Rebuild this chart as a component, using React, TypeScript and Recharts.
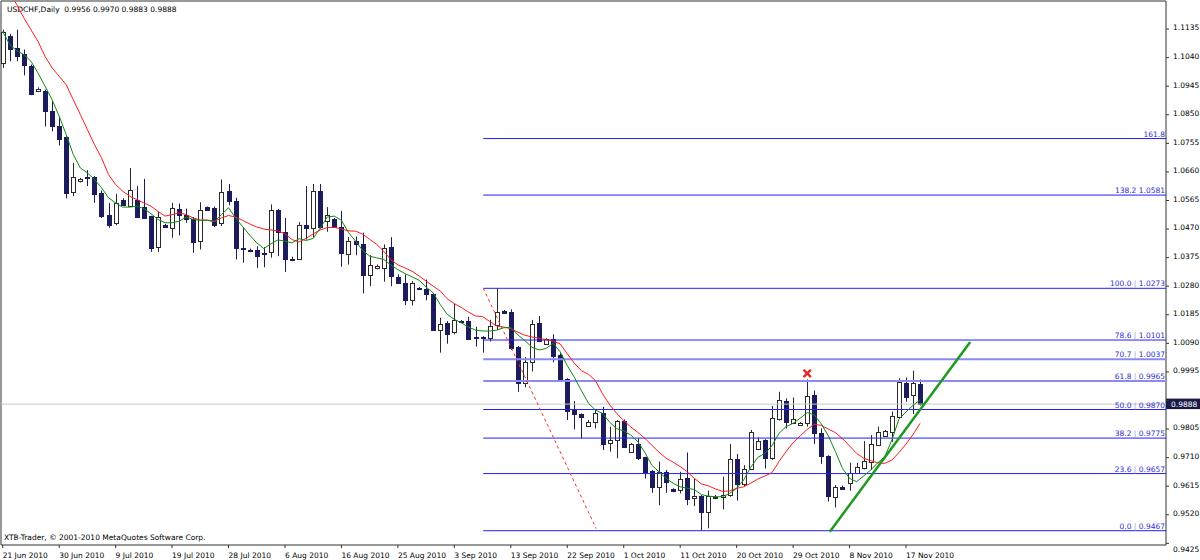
import React from 'react';
import {
  ComposedChart,
  Bar,
  Line,
  XAxis,
  YAxis,
  ReferenceLine,
  ReferenceDot,
  ReferenceArea,
  Customized,
} from 'recharts';

// ---------- data ----------
const OPEN = [
  1.1022, 1.1113, 1.1072, 1.1052, 1.1011, 1.0928, 1.0930, 1.0864, 1.0812, 1.0775,
  1.0594, 1.0629, 1.0644, 1.0642, 1.0590, 1.0516, 1.0491, 1.0566, 1.0548, 1.0568,
  1.0543, 1.0512, 1.0410, 1.0483, 1.0474, 1.0538, 1.0518, 1.0502, 1.0430, 1.0543,
  1.0541, 1.0491, 1.0596, 1.0563, 1.0408, 1.0399, 1.0399, 1.0392, 1.0393, 1.0532,
  1.0461, 1.0372, 1.0369, 1.0485, 1.0474, 1.0598, 1.0496, 1.0505, 1.0476, 1.0388,
  1.0430, 1.0419, 1.0316, 1.0339, 1.0341, 1.0410, 1.0311, 1.0291, 1.0233, 1.0274,
  1.0272, 1.0253, 1.0136, 1.0156, 1.0129, 1.0165, 1.0163, 1.0110, 1.0112, 1.0107,
  1.0151, 1.0196, 1.0193, 1.0079, 0.9957, 1.0027, 1.0157, 1.0088, 1.0103, 1.0051,
  0.9971, 0.9868, 0.9854, 0.9816, 0.9830, 0.9859, 0.9758, 0.9769, 0.9833, 0.9730,
  0.9755, 0.9711, 0.9666, 0.9613, 0.9663, 0.9605, 0.9602, 0.9641, 0.9576, 0.9582,
  0.9530, 0.9578, 0.9580, 0.9586, 0.9704, 0.9622, 0.9671, 0.9738, 0.9769, 0.9708,
  0.9837, 0.9899, 0.9826, 0.9817, 0.9826, 0.9918, 0.9791, 0.9715, 0.9578, 0.9613,
  0.9625, 0.9658, 0.9674, 0.9697, 0.9752, 0.9782, 0.9796, 0.9846, 0.9959, 0.9918,
  0.9956,
];
const HIGH = [
  1.1133, 1.1119, 1.1133, 1.1067, 1.1017, 1.0941, 1.0934, 1.0895, 1.0845, 1.0779,
  1.0690, 1.0640, 1.0666, 1.0646, 1.0598, 1.0557, 1.0587, 1.0572, 1.0673, 1.0613,
  1.0637, 1.0514, 1.0527, 1.0487, 1.0557, 1.0555, 1.0538, 1.0510, 1.0559, 1.0545,
  1.0545, 1.0635, 1.0620, 1.0574, 1.0474, 1.0405, 1.0413, 1.0410, 1.0552, 1.0537,
  1.0507, 1.0378, 1.0493, 1.0613, 1.0620, 1.0620, 1.0543, 1.0507, 1.0530, 1.0444,
  1.0445, 1.0458, 1.0383, 1.0352, 1.0419, 1.0443, 1.0319, 1.0319, 1.0297, 1.0277,
  1.0302, 1.0255, 1.0175, 1.0164, 1.0222, 1.0167, 1.0178, 1.0145, 1.0114, 1.0168,
  1.0273, 1.0201, 1.0203, 1.0081, 1.0044, 1.0168, 1.0181, 1.0107, 1.0120, 1.0057,
  0.9974, 0.9898, 0.9857, 0.9835, 0.9868, 0.9879, 0.9813, 0.9835, 0.9837, 0.9758,
  0.9774, 0.9713, 0.9669, 0.9697, 0.9669, 0.9608, 0.9663, 0.9727, 0.9641, 0.9585,
  0.9600, 0.9586, 0.9647, 0.9755, 0.9722, 0.9685, 0.9802, 0.9777, 0.9771, 0.9882,
  0.9929, 0.9907, 0.9910, 0.9828, 0.9970, 0.9933, 0.9807, 0.9718, 0.9619, 0.9617,
  0.9693, 0.9693, 0.9765, 0.9785, 0.9813, 0.9802, 0.9863, 0.9974, 0.9976, 0.9999,
  0.9970,
];
const LOW = [
  1.1006, 1.1028, 1.1028, 1.0981, 1.0915, 1.0926, 1.0811, 1.0795, 1.0748, 1.0572,
  1.0579, 1.0625, 1.0613, 1.0557, 1.0507, 1.0474, 1.0483, 1.0547, 1.0543, 1.0507,
  1.0505, 1.0394, 1.0394, 1.0474, 1.0441, 1.0449, 1.0491, 1.0391, 1.0402, 1.0530,
  1.0477, 1.0480, 1.0549, 1.0369, 1.0358, 1.0393, 1.0341, 1.0343, 1.0375, 1.0380,
  1.0327, 1.0366, 1.0368, 1.0435, 1.0443, 1.0471, 1.0461, 1.0474, 1.0345, 1.0352,
  1.0383, 1.0256, 1.0280, 1.0336, 1.0295, 1.0280, 1.0288, 1.0217, 1.0216, 1.0268,
  1.0233, 1.0131, 1.0059, 1.0089, 1.0120, 1.0157, 1.0102, 1.0079, 1.0059, 1.0096,
  1.0134, 1.0188, 1.0068, 0.9929, 0.9944, 0.9996, 1.0096, 1.0085, 1.0027, 0.9963,
  0.9835, 0.9804, 0.9774, 0.9813, 0.9807, 0.9735, 0.9730, 0.9708, 0.9743, 0.9727,
  0.9702, 0.9641, 0.9593, 0.9552, 0.9593, 0.9595, 0.9591, 0.9552, 0.9549, 0.9467,
  0.9475, 0.9572, 0.9538, 0.9580, 0.9567, 0.9613, 0.9669, 0.9735, 0.9674, 0.9702,
  0.9833, 0.9807, 0.9822, 0.9815, 0.9813, 0.9755, 0.9689, 0.9564, 0.9544, 0.9605,
  0.9600, 0.9656, 0.9671, 0.9669, 0.9749, 0.9780, 0.9763, 0.9844, 0.9896, 0.9855,
  0.9883,
];
const CLOSE = [
  1.1125, 1.1069, 1.1047, 1.1017, 1.0920, 1.0935, 1.0862, 1.0812, 1.0771, 1.0590,
  1.0642, 1.0636, 1.0639, 1.0587, 1.0515, 1.0485, 1.0555, 1.0549, 1.0601, 1.0510,
  1.0507, 1.0408, 1.0510, 1.0476, 1.0541, 1.0518, 1.0502, 1.0428, 1.0532, 1.0535,
  1.0483, 1.0593, 1.0563, 1.0408, 1.0406, 1.0398, 1.0382, 1.0390, 1.0532, 1.0460,
  1.0369, 1.0370, 1.0485, 1.0474, 1.0598, 1.0476, 1.0518, 1.0477, 1.0389, 1.0430,
  1.0419, 1.0316, 1.0349, 1.0346, 1.0408, 1.0314, 1.0291, 1.0233, 1.0290, 1.0272,
  1.0253, 1.0134, 1.0153, 1.0122, 1.0167, 1.0160, 1.0106, 1.0109, 1.0110, 1.0149,
  1.0193, 1.0190, 1.0073, 0.9959, 1.0027, 1.0154, 1.0098, 1.0103, 1.0048, 0.9966,
  0.9865, 0.9855, 0.9846, 0.9830, 0.9859, 0.9755, 0.9767, 0.9832, 0.9746, 0.9755,
  0.9708, 0.9661, 0.9613, 0.9663, 0.9630, 0.9598, 0.9638, 0.9571, 0.9582, 0.9530,
  0.9582, 0.9580, 0.9586, 0.9704, 0.9622, 0.9671, 0.9796, 0.9766, 0.9708, 0.9841,
  0.9902, 0.9830, 0.9837, 0.9824, 0.9915, 0.9791, 0.9715, 0.9582, 0.9611, 0.9607,
  0.9660, 0.9678, 0.9700, 0.9755, 0.9796, 0.9800, 0.9848, 0.9963, 0.9913, 0.9957,
  0.9888,
];
// red moving average
const MA_SLOW = [
  1.1293, 1.1255, 1.1216, 1.1172, 1.1133, 1.1094, 1.1044, 1.1006, 1.0978, 1.0950,
  1.0900, 1.0851, 1.0801, 1.0751, 1.0707, 1.0651, 1.0618, 1.0596, 1.0579, 1.0568,
  1.0557, 1.0546, 1.0529, 1.0513, 1.0518, 1.0524, 1.0518, 1.0507, 1.0500, 1.0500,
  1.0496, 1.0507, 1.0515, 1.0510, 1.0499, 1.0487, 1.0477, 1.0470, 1.0467, 1.0464,
  1.0454, 1.0435, 1.0427, 1.0439, 1.0454, 1.0467, 1.0475, 1.0476, 1.0470, 1.0464,
  1.0463, 1.0453, 1.0436, 1.0419, 1.0396, 1.0368, 1.0351, 1.0341, 1.0330, 1.0314,
  1.0297, 1.0280, 1.0264, 1.0238, 1.0222, 1.0209, 1.0194, 1.0181, 1.0179, 1.0163,
  1.0148, 1.0144, 1.0139, 1.0127, 1.0117, 1.0111, 1.0107, 1.0102, 1.0097, 1.0088,
  1.0055, 1.0024, 0.9999, 0.9987, 0.9966, 0.9922, 0.9886, 0.9857, 0.9833, 0.9812,
  0.9794, 0.9774, 0.9751, 0.9728, 0.9708, 0.9695, 0.9680, 0.9663, 0.9641, 0.9623,
  0.9616, 0.9606, 0.9598, 0.9599, 0.9608, 0.9613, 0.9625, 0.9639, 0.9649, 0.9660,
  0.9697, 0.9730, 0.9760, 0.9782, 0.9804, 0.9821, 0.9817, 0.9805, 0.9793, 0.9773,
  0.9749, 0.9724, 0.9708, 0.9700, 0.9693, 0.9691, 0.9702, 0.9727, 0.9755, 0.9787,
  0.9824,
];
// green moving average
const MA_FAST = [
  1.1127, 1.1083, 1.1063, 1.1050, 1.1028, 1.0989, 1.0945, 1.0900, 1.0845, 1.0784,
  1.0718, 1.0673, 1.0657, 1.0635, 1.0607, 1.0574, 1.0557, 1.0543, 1.0543, 1.0546,
  1.0538, 1.0521, 1.0502, 1.0491, 1.0491, 1.0496, 1.0510, 1.0502, 1.0499, 1.0499,
  1.0494, 1.0518, 1.0541, 1.0507, 1.0478, 1.0450, 1.0424, 1.0405, 1.0421, 1.0434,
  1.0430, 1.0424, 1.0438, 1.0432, 1.0439, 1.0474, 1.0510, 1.0513, 1.0499, 1.0458,
  1.0430, 1.0399, 1.0380, 1.0374, 1.0369, 1.0350, 1.0335, 1.0322, 1.0311, 1.0300,
  1.0277, 1.0258, 1.0219, 1.0186, 1.0170, 1.0158, 1.0144, 1.0134, 1.0131, 1.0131,
  1.0134, 1.0142, 1.0143, 1.0118, 1.0099, 1.0077, 1.0068, 1.0073, 1.0090, 1.0062,
  1.0016, 0.9977, 0.9933, 0.9891, 0.9868, 0.9857, 0.9828, 0.9806, 0.9799, 0.9785,
  0.9763, 0.9727, 0.9684, 0.9663, 0.9641, 0.9625, 0.9613, 0.9608, 0.9604, 0.9587,
  0.9582, 0.9580, 0.9580, 0.9591, 0.9608, 0.9636, 0.9678, 0.9711, 0.9724, 0.9749,
  0.9791, 0.9813, 0.9824, 0.9841, 0.9860, 0.9852, 0.9822, 0.9782, 0.9730, 0.9674,
  0.9641, 0.9630, 0.9649, 0.9669, 0.9693, 0.9713, 0.9769, 0.9838, 0.9862, 0.9884,
  0.9902,
];

const DATE_TICK_INDEX = [0, 8, 16, 24, 32, 40, 48, 56, 64, 72, 80, 88, 96, 104, 112, 120, 128];
const DATE_TICK_LABELS = [
  '21 Jun 2010', '30 Jun 2010', '9 Jul 2010', '19 Jul 2010', '28 Jul 2010', '6 Aug 2010',
  '16 Aug 2010', '25 Aug 2010', '3 Sep 2010', '13 Sep 2010', '22 Sep 2010', '1 Oct 2010',
  '11 Oct 2010', '20 Oct 2010', '29 Oct 2010', '8 Nov 2010', '17 Nov 2010',
];
const PRICE_TICKS = [
  0.9425, 0.952, 0.9615, 0.971, 0.9805, 0.99, 0.9995, 1.009, 1.0185, 1.028,
  1.0375, 1.047, 1.0565, 1.066, 1.0755, 1.085, 1.0945, 1.104, 1.1135,
];
const FIB_LEVELS = [0.9467, 0.9657, 0.9775, 0.987, 0.9965, 1.0037, 1.0101, 1.0273, 1.0583, 1.0771];
const FIB_PCT = ['0.0', '23.6', '38.2', '50.0', '61.8', '70.7', '78.6', '100.0', '138.2', '161.8'];
const FIB_PRICE = ['0.9467', '0.9657', '0.9775', '0.9870', '0.9965', '1.0037', '1.0101', '1.0273', '1.0581', ''];
const FIB_PIPE = [true, true, true, true, true, true, true, true, false, false];
const FIB_LIGHT = [false, false, false, false, true, true, false, false, false, false];
const BID = 0.9888;
const TITLE = 'USDCHF,Daily  0.9956 0.9970 0.9883 0.9888';
const COPYRIGHT = 'XTB-Trader, \u00A9 2001-2010 MetaQuotes Software Corp.';

// chart objects (in data coordinates)
const X_DOMAIN: [number, number] = [-0.241, 164.84];
const Y_DOMAIN: [number, number] = [0.94195, 1.12283];
const FIB_START = 68.1;
const FIB_BASE_LINE = [{ x: 68.1, y: 1.0273 }, { x: 84.1, y: 0.9474 }];
const TREND_LINE = [{ x: 117.2, y: 0.94637 }, { x: 137.1, y: 1.00944 }];
const MARK_X = { i: 114, price: 0.999 };

const FONT = 'DejaVu Sans';

const data = OPEN.map((o, i) => ({
  i,
  o,
  h: HIGH[i],
  l: LOW[i],
  c: CLOSE[i],
  range: [LOW[i], HIGH[i]],
  maSlow: MA_SLOW[i],
  maFast: MA_FAST[i],
}));

const NAVY = '#1c1c5c';
const BULL_LINE = '#2a2a2a';

const Candle = (props: any) => {
  const { x, y, width, height, payload } = props;
  if (x == null || y == null || !payload) return null;
  const { o, h, l, c } = payload;
  const top = Math.min(y, y + height);
  const bottom = Math.max(y, y + height);
  const span = h - l;
  const k = span > 0 ? (bottom - top) / span : 0;
  const yOf = (v: number) => top + (h - v) * k;
  const cx = Math.round(x + width / 2) + 0.5;
  const bull = c >= o;
  const bTop = Math.round(yOf(Math.max(o, c))) + 0.5;
  const bBot = Math.round(yOf(Math.min(o, c))) + 0.5;
  const col = bull ? BULL_LINE : NAVY;
  return (
    <g>
      <line x1={cx} x2={cx} y1={top} y2={bottom} stroke={col} strokeWidth={1} />
      <rect
        x={cx - 2}
        y={bTop}
        width={4}
        height={Math.max(bBot - bTop, 1)}
        fill={bull ? '#ffffff' : NAVY}
        stroke={col}
        strokeWidth={1}
      />
    </g>
  );
};

const XTick = (props: any) => {
  const { x, y, payload } = props;
  const idx = DATE_TICK_INDEX.indexOf(payload.value);
  const label = idx >= 0 ? DATE_TICK_LABELS[idx] : '';
  return (
    <text x={x} y={y + 8} textAnchor="start" fontFamily={FONT} fontSize={7.5} fill="#000">
      {label}
    </text>
  );
};

const YTick = (props: any) => {
  const { x, y, payload } = props;
  const v = payload.value as number;
  // the label that sits under the current-price box is hidden in the reference
  if (Math.abs(v - BID) < 0.002) return null;
  const isBottom = Math.abs(v - PRICE_TICKS[0]) < 1e-6;
  const ty = isBottom ? y + 9 : y + 1.3;
  return (
    <text x={x + 2} y={ty} textAnchor="start" fontFamily={FONT} fontSize={7.5} fill="#000">
      {v.toFixed(4)}
    </text>
  );
};

const fibLabel = (k: number) => (props: any) => {
  const vb = props.viewBox || {};
  const x = (vb.x ?? 0) + (vb.width ?? 0) - 1;
  const y = vb.y ?? 0;
  return (
    <text
      x={x}
      y={y - 2}
      textAnchor="end"
      fontFamily={FONT}
      fontSize={7.5}
      fill="#2e2ed0"
      style={{ whiteSpace: 'pre' }}
    >
      <tspan>{FIB_PCT[k]}</tspan>
      {FIB_PIPE[k] ? <tspan fill="#9a9ad8">{' | '}</tspan> : FIB_PRICE[k] ? <tspan>{' '}</tspan> : null}
      {FIB_PRICE[k] ? <tspan>{FIB_PRICE[k]}</tspan> : null}
    </text>
  );
};

const bidLabel = (props: any) => {
  const vb = props.viewBox || {};
  const x = (vb.x ?? 0) + (vb.width ?? 0);
  const y = vb.y ?? 0;
  return (
    <g>
      <rect x={x} y={y - 5.5} width={34} height={10.5} fill="#1a1a48" />
      <text x={x + 5} y={y + 2.7} fontFamily={FONT} fontSize={7.5} fill="#ffffff">
        {BID.toFixed(4)}
      </text>
    </g>
  );
};

const CrossMark = (props: any) => {
  const { cx, cy } = props;
  if (cx == null || cy == null) return null;
  return (
    <g stroke="#e8262a" strokeWidth={2.4} strokeLinecap="round">
      <line x1={cx - 3} y1={cy - 3} x2={cx + 3} y2={cy + 3} />
      <line x1={cx - 3} y1={cy + 3} x2={cx + 3} y2={cy - 3} />
    </g>
  );
};

const Texts = () => (
  <g fontFamily={FONT} fontSize={7.5} fill="#000">
    <text x={7} y={12} style={{ whiteSpace: 'pre' }}>
      {TITLE}
    </text>
    <text x={4} y={540}>
      {COPYRIGHT}
    </text>
  </g>
);

export default function App() {
  return (
    <div style={{ position: 'absolute', left: 0, top: 0, width: 1200, height: 560, background: '#fff' }}>
      <ComposedChart width={1200} height={560} data={data} margin={{ top: 1, right: 0, bottom: 0, left: 1 }}>
        <XAxis
          dataKey="i"
          type="number"
          domain={X_DOMAIN}
          allowDataOverflow
          ticks={DATE_TICK_INDEX}
          interval={0}
          tick={<XTick />}
          tickSize={3}
          tickLine={{ stroke: '#333' }}
          axisLine={false}
          height={15}
        />
        <YAxis
          orientation="right"
          type="number"
          domain={Y_DOMAIN}
          allowDataOverflow
          ticks={PRICE_TICKS}
          interval={0}
          tick={<YTick />}
          tickSize={3}
          tickLine={{ stroke: '#333' }}
          axisLine={false}
          width={34}
        />
        <ReferenceArea
          x1={X_DOMAIN[0]}
          x2={X_DOMAIN[1]}
          y1={Y_DOMAIN[0]}
          y2={Y_DOMAIN[1]}
          fill="none"
          fillOpacity={0}
          stroke="#333"
          strokeWidth={1}
          ifOverflow="visible"
        />
        <ReferenceLine y={BID} stroke="#c8c8c8" strokeWidth={1} ifOverflow="visible" label={bidLabel} />
        {FIB_LEVELS.map((lvl, k) => (
          <ReferenceLine
            key={'fib' + k}
            segment={[{ x: FIB_START, y: lvl }, { x: X_DOMAIN[1], y: lvl }]}
            stroke={FIB_LIGHT[k] ? '#8a8af2' : '#1e1eff'}
            strokeWidth={FIB_LIGHT[k] ? 2 : 1}
            ifOverflow="visible"
            label={fibLabel(k)}
          />
        ))}
        <ReferenceLine
          segment={FIB_BASE_LINE}
          stroke="#ff2a2a"
          strokeWidth={1}
          strokeDasharray="3 3"
          ifOverflow="visible"
        />
        <Bar dataKey="range" shape={<Candle />} barSize={5} isAnimationActive={false} />
        <Line
          type="linear"
          dataKey="maSlow"
          stroke="#ff1a1a"
          strokeWidth={1}
          dot={false}
          activeDot={false}
          isAnimationActive={false}
        />
        <Line
          type="linear"
          dataKey="maFast"
          stroke="#118811"
          strokeWidth={1}
          dot={false}
          activeDot={false}
          isAnimationActive={false}
        />
        <ReferenceLine segment={TREND_LINE} stroke="#1f9a1f" strokeWidth={2.5} ifOverflow="visible" />
        <ReferenceDot x={MARK_X.i} y={MARK_X.price} r={4} shape={<CrossMark />} ifOverflow="visible" />
        <Customized component={Texts} />
      </ComposedChart>
    </div>
  );
}
